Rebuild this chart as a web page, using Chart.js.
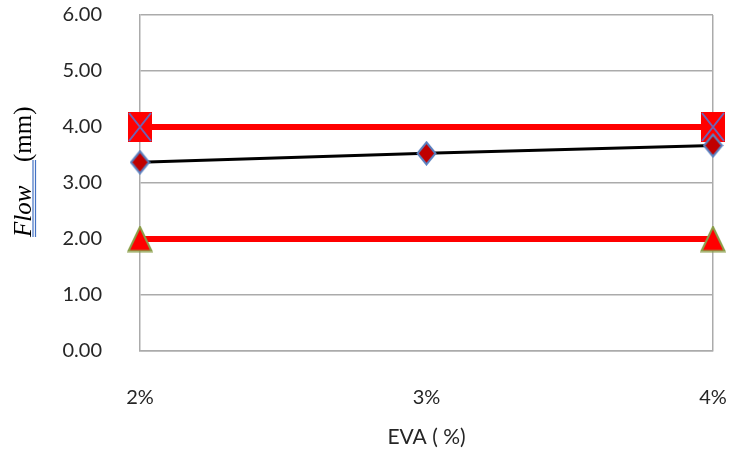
<!DOCTYPE html>
<html>
<head>
<meta charset="utf-8">
<script src="https://cdn.jsdelivr.net/npm/chart.js@4.4.1/dist/chart.umd.min.js"></script>
<style>
    body { margin: 0; background: #fff; }
    #flowChart { display: block; }
</style>
</head>
<body>
<canvas id="flowChart" width="739" height="452"></canvas>
<script>
// EVA content vs flow, with the spec limits
const evaLabels = ['2%', '3%', '4%'];
const flowValues = [3.37, 3.53, 3.67];
const maxLimit = [4.00, null, 4.00];
const minLimit = [2.00, null, 2.00];
const yTicks = [0, 1, 2, 3, 4, 5, 6];

const GRID = '#ababab';
const TEXT = '#262626';

// small canvases used as point styles
function makeMarker(w, h, draw) {
    const c = document.createElement('canvas');
    c.width = w;
    c.height = h;
    draw(c.getContext('2d'), w, h);
    return c;
}

const squareMark = makeMarker(24, 30, (g, w, h) => {
    g.fillStyle = '#ff0000';
    g.fillRect(0, 0, w, h);
    g.strokeStyle = '#6f62b4';
    g.lineWidth = 2;
    g.beginPath();
    g.moveTo(1, 1); g.lineTo(w - 1, h - 1);
    g.moveTo(w - 1, 1); g.lineTo(1, h - 1);
    g.stroke();
});

const diamondMark = makeMarker(21, 25, (g, w, h) => {
    g.beginPath();
    g.moveTo(w / 2, 1.5);
    g.lineTo(w - 1.5, h / 2);
    g.lineTo(w / 2, h - 1.5);
    g.lineTo(1.5, h / 2);
    g.closePath();
    g.fillStyle = '#c00000';
    g.fill();
    g.strokeStyle = '#5a7fbf';
    g.lineWidth = 2;
    g.stroke();
});

const triangleMark = makeMarker(26, 27, (g, w, h) => {
    g.beginPath();
    g.moveTo(w / 2, 1.5);
    g.lineTo(w - 1.5, h - 1.5);
    g.lineTo(1.5, h - 1.5);
    g.closePath();
    g.fillStyle = '#ff0000';
    g.fill();
    g.strokeStyle = '#8a9e48';
    g.lineWidth = 2;
    g.stroke();
});

// y title: italic "Flow" with a blue double underline, then "(mm)"
const yTitlePlugin = {
    id: 'yTitle',
    afterDraw(chart) {
        const ctx = chart.ctx;
        ctx.save();
        ctx.translate(31, 237);
        ctx.rotate(-Math.PI / 2);
        ctx.fillStyle = '#000';
        ctx.textBaseline = 'alphabetic';
        ctx.textAlign = 'left';
        ctx.font = 'italic 25px "Liberation Serif", serif';
        ctx.fillText('Flow', 0, 0);
        ctx.font = '25px "Liberation Serif", serif';
        ctx.fillText('(mm)', 75, 0);
        ctx.strokeStyle = '#4472c4';
        ctx.lineWidth = 1.2;
        ctx.beginPath();
        ctx.moveTo(0, 2); ctx.lineTo(77, 2);
        ctx.moveTo(0, 4.5); ctx.lineTo(77, 4.5);
        ctx.stroke();
        ctx.restore();
    }
};

const ctx = document.getElementById('flowChart').getContext('2d');

new Chart(ctx, {
    type: 'line',
    data: {
        labels: evaLabels,
        datasets: [
            {
                data: flowValues,
                borderColor: '#000',
                borderWidth: 3,
                pointStyle: diamondMark,
                pointRadius: 12,
                clip: false
            },
            {
                data: maxLimit,
                borderColor: '#ff0000',
                borderWidth: 6,
                spanGaps: true,
                pointStyle: squareMark,
                pointRadius: 14,
                clip: false
            },
            {
                data: minLimit,
                borderColor: '#ff0000',
                borderWidth: 6,
                spanGaps: true,
                pointStyle: triangleMark,
                pointRadius: 13,
                clip: false
            }
        ]
    },
    options: {
        responsive: false,
        animation: false,
        layout: {
            // markers may overhang the plot, so no auto padding for them
            autoPadding: false,
            padding: { left: 0, right: 26, top: 15, bottom: 0 }
        },
        plugins: {
            legend: { display: false },
            tooltip: { enabled: false }
        },
        scales: {
            x: {
                offset: false,
                // fixed box, and no extra side padding from the tick padding
                afterFit: (s) => {
                    s.height = 101;
                    s.paddingLeft = 0;
                    s.paddingRight = 0;
                },
                grid: {
                    drawTicks: false,
                    color: (c) => c.index === evaLabels.length - 1 ? GRID : 'transparent',
                    lineWidth: 1.5
                },
                border: { color: GRID, width: 1.5 },
                ticks: {
                    padding: 35,
                    color: TEXT,
                    font: { family: 'Lato', size: 20 }
                },
                title: {
                    display: true,
                    text: 'EVA ( %)',
                    color: TEXT,
                    font: { family: 'Lato', size: 21 },
                    padding: { top: 0, bottom: 2 }
                }
            },
            y: {
                min: yTicks[0],
                max: yTicks[yTicks.length - 1],
                afterFit: (s) => {
                    s.width = 140;
                    s.paddingTop = 0;
                    s.paddingBottom = 0;
                },
                afterBuildTicks: (s) => { s.ticks = yTicks.map(v => ({ value: v })); },
                grid: {
                    drawTicks: false,
                    color: GRID,
                    lineWidth: 1.5
                },
                border: { color: GRID, width: 1.5 },
                ticks: {
                    padding: 38,
                    color: TEXT,
                    font: { family: 'Lato', size: 20 },
                    callback: (v) => Number(v).toFixed(2)
                }
            }
        }
    },
    plugins: [yTitlePlugin]
});
</script>
</body>
</html>
